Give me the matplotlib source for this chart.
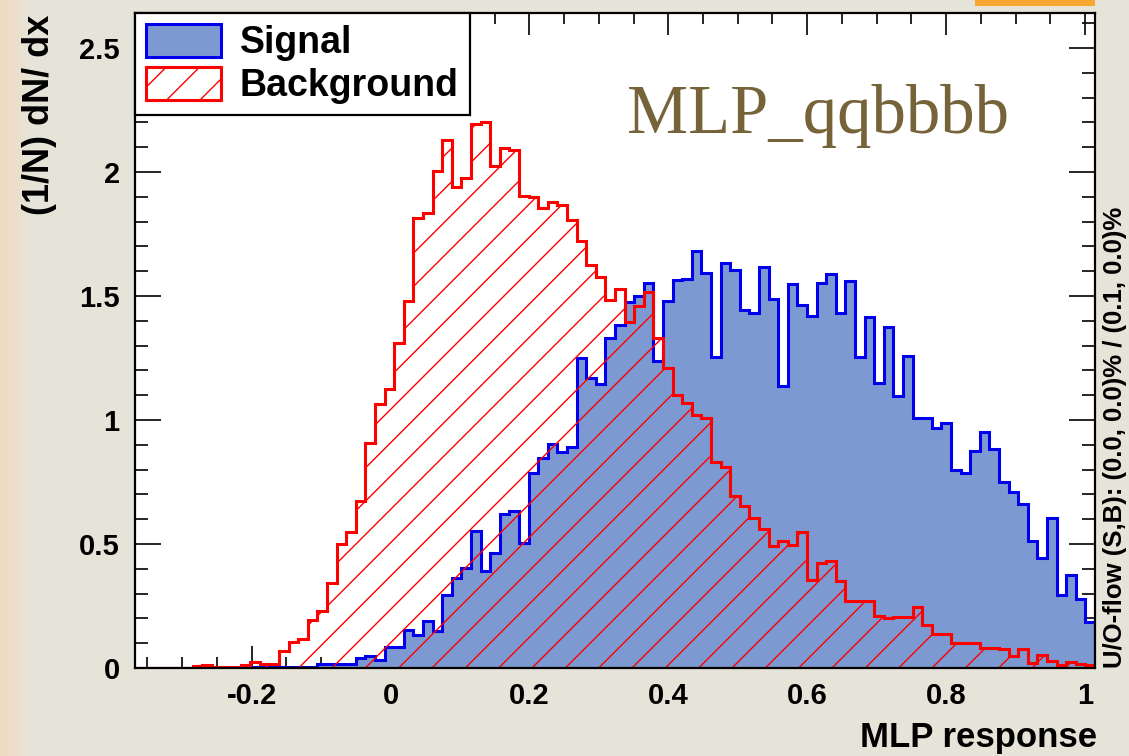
import numpy as np
import matplotlib
matplotlib.use("Agg")
import matplotlib.pyplot as plt
from matplotlib.patches import Patch, Rectangle

# ---------------- data ----------------
x_range = (-0.3679, 1.0144)
n_bins = 100

background = [
    0.0, 0.0, 0.0, 0.0, 0.0, 0.0, 0.007, 0.011, 0.006, 0.004,
    0.003, 0.013, 0.024, 0.016, 0.016, 0.068, 0.106, 0.117, 0.192, 0.228,
    0.342, 0.500, 0.550, 0.672, 0.906, 1.064, 1.124, 1.311, 1.478, 1.813,
    1.834, 2.002, 2.127, 1.941, 1.974, 2.193, 2.203, 2.024, 2.095, 2.090,
    1.903, 1.900, 1.853, 1.880, 1.865, 1.806, 1.720, 1.625, 1.576, 1.483,
    1.527, 1.397, 1.461, 1.515, 1.329, 1.211, 1.102, 1.067, 1.020, 1.008,
    0.829, 0.810, 0.693, 0.654, 0.603, 0.561, 0.492, 0.512, 0.495, 0.547,
    0.356, 0.422, 0.430, 0.352, 0.271, 0.272, 0.272, 0.210, 0.200, 0.204,
    0.204, 0.245, 0.173, 0.137, 0.137, 0.102, 0.099, 0.102, 0.079, 0.079,
    0.075, 0.050, 0.075, 0.019, 0.052, 0.030, 0.012, 0.026, 0.016, 0.012,
]

signal = [
    0.0, 0.0, 0.0, 0.0, 0.0, 0.0, 0.002, 0.002, 0.002, 0.002,
    0.002, 0.004, 0.004, 0.004, 0.004, 0.004, 0.004, 0.005, 0.005, 0.015,
    0.018, 0.018, 0.018, 0.040, 0.047, 0.034, 0.084, 0.084, 0.155, 0.134,
    0.188, 0.151, 0.296, 0.362, 0.404, 0.554, 0.390, 0.462, 0.619, 0.632,
    0.503, 0.788, 0.845, 0.905, 0.870, 0.893, 1.250, 1.168, 1.144, 1.330,
    1.385, 1.475, 1.501, 1.553, 1.237, 1.478, 1.566, 1.567, 1.683, 1.591,
    1.255, 1.634, 1.605, 1.444, 1.433, 1.616, 1.487, 1.137, 1.548, 1.464,
    1.419, 1.551, 1.587, 1.430, 1.560, 1.255, 1.414, 1.148, 1.376, 1.098,
    1.258, 1.009, 1.009, 0.969, 0.986, 0.797, 0.785, 0.874, 0.953, 0.883,
    0.750, 0.708, 0.662, 0.514, 0.442, 0.605, 0.295, 0.375, 0.278, 0.184,
]

x_major_ticks = [-0.2, 0, 0.2, 0.4, 0.6, 0.8, 1]
x_tick_labels = ["-0.2", "0", "0.2", "0.4", "0.6", "0.8", "1"]
y_major_ticks = [0, 0.5, 1, 1.5, 2, 2.5]
y_tick_labels = ["0", "0.5", "1", "1.5", "2", "2.5"]

legend_labels = ["Signal", "Background"]
title_text = "MLP_qqbbbb"
x_label = "MLP response"
y_label = "(1/N) dN/ dx"
overflow_text = "U/O-flow (S,B): (0.0, 0.0)% / (0.1, 0.0)%"

# ---------------- style ----------------
sig_fill = "#7d99d1"
sig_line = "#0000ee"
bkg_line = "#ff0000"
title_color = "#76633a"

plt.rcParams["font.family"] = ["Liberation Sans", "DejaVu Sans"]
plt.rcParams["hatch.linewidth"] = 1.0

W, H = 1129, 756
fig = plt.figure(figsize=(W / 100, H / 100), dpi=100)
fig.patch.set_facecolor("#e7e4d9")

# parchment-like gradient on the left edge
bg = fig.add_axes([0, 0, 1, 1], zorder=-10)
grad = np.linspace(0, 1, 300)
r = np.interp(grad, [0, 0.012, 0.025, 1], [0.93, 0.925, 0.905, 0.905])
g = np.interp(grad, [0, 0.012, 0.025, 1], [0.86, 0.875, 0.894, 0.894])
b = np.interp(grad, [0, 0.012, 0.025, 1], [0.76, 0.79, 0.85, 0.85])
img = np.dstack([r, g, b])
bg.imshow(img, aspect="auto", extent=[0, 1, 0, 1])
bg.set_axis_off()

# partial orange logo at the top right
fig.patches.append(Rectangle((975 / W, 1 - 6 / H), 120 / W, 6 / H,
                             transform=fig.transFigure, facecolor="#f7a731",
                             edgecolor="none", zorder=1))

ax = fig.add_axes([135 / W, 1 - 668 / H, 960 / W, 655 / H])
ax.set_facecolor("white")

edges = np.linspace(x_range[0], x_range[1], n_bins + 1)

ax.stairs(signal, edges, fill=True, facecolor=sig_fill, edgecolor="none", zorder=2)
ax.stairs(signal, edges, fill=False, color=sig_line, linewidth=2.2, zorder=3)
ax.stairs(background, edges, fill=True, facecolor="none", edgecolor=bkg_line,
          hatch="/", linewidth=0, zorder=4)
ax.stairs(background, edges, fill=False, color=bkg_line, linewidth=2.2, zorder=5)

ax.set_xlim(x_range)
ax.set_ylim(0, 2.641)

ax.set_xticks(x_major_ticks)
ax.set_xticklabels(x_tick_labels)
ax.set_xticks(np.arange(-0.35, 1.01, 0.05), minor=True)
ax.set_yticks(y_major_ticks)
ax.set_yticklabels(y_tick_labels)
ax.set_yticks(np.arange(0, 2.65, 0.1), minor=True)

for lab in ax.get_xticklabels() + ax.get_yticklabels():
    lab.set_fontweight("bold")
    lab.set_fontsize(21)

ax.tick_params(axis="x", which="both", direction="in", top=True, bottom=True,
               width=1.2, pad=10)
ax.tick_params(axis="x", which="major", length=16)
ax.tick_params(axis="x", which="minor", length=8)
ax.tick_params(axis="y", which="both", direction="in", left=True, right=True,
               width=1.2, pad=11)
ax.tick_params(axis="y", which="major", length=19)
ax.tick_params(axis="y", which="minor", length=9.5)

for sp in ax.spines.values():
    sp.set_linewidth(1.6)
    sp.set_zorder(10)

# legend
handles = [
    Patch(facecolor=sig_fill, edgecolor=sig_line, linewidth=2.2),
    Patch(facecolor="white", edgecolor=bkg_line, hatch="/", linewidth=2.2),
]
leg = ax.legend(handles, legend_labels, loc="upper left", bbox_to_anchor=(0.0, 1.0),
                borderaxespad=0, fancybox=False, framealpha=1, edgecolor="black",
                prop={"weight": "bold", "size": 27}, handlelength=2.0,
                handleheight=0.96, handletextpad=0.5, labelspacing=0.15,
                borderpad=0.3)
leg.get_frame().set_linewidth(1.6)
leg.set_zorder(20)

ax.text((818 - 135) / 960, (668 - 133) / 655, title_text, transform=ax.transAxes,
        ha="center", va="baseline", fontsize=49.5, color=title_color,
        family="Liberation Serif", zorder=15)

fig.text(40 / W, 1 - 15 / H, y_label, rotation=90, ha="center", va="top",
         fontsize=26, fontweight="bold")
fig.text(1097 / W, 1 - 737 / H, x_label, ha="right", va="center",
         fontsize=25, fontweight="bold")
fig.text(1115 / W, 1 - 668 / H, overflow_text, rotation=90, ha="center",
         va="bottom", fontsize=18.5, fontweight="bold")

fig.savefig("out.png", dpi=100, facecolor=fig.get_facecolor())
